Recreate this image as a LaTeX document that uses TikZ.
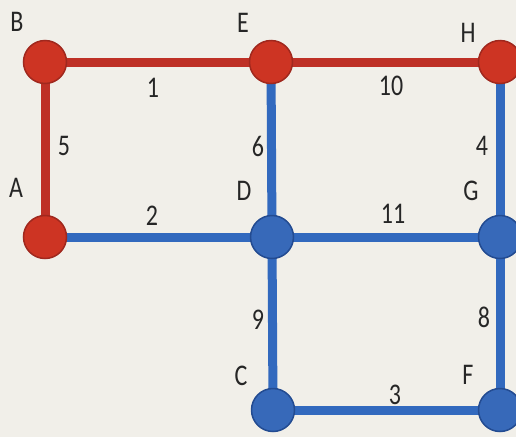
\documentclass[tikz,border=0pt]{standalone}
\usepackage{fontspec}
\setmainfont{Carlito}
\definecolor{bg}{RGB}{241,239,233}
\definecolor{rfill}{RGB}{205,52,35}
\definecolor{rdraw}{RGB}{160,40,30}
\definecolor{redge}{RGB}{190,48,38}
\definecolor{bfill}{RGB}{55,105,185}
\definecolor{bdraw}{RGB}{35,75,145}
\definecolor{bedge}{RGB}{50,105,190}
\newcommand{\lbl}[1]{\scalebox{0.8}[1]{#1}}
\tikzset{
  vred/.style={circle,fill=rfill,draw=rdraw,line width=1.5pt,minimum size=43pt,inner sep=0pt},
  vblue/.style={circle,fill=bfill,draw=bdraw,line width=1.5pt,minimum size=43pt,inner sep=0pt},
  ered/.style={draw=redge,line width=9pt},
  eblue/.style={draw=bedge,line width=9pt},
  txt/.style={font=\fontsize{30}{30}\selectfont,text=black!85,inner sep=0pt}
}
\begin{document}
\begin{tikzpicture}[x=1pt,y=-1pt]
\fill[bg] (0,0) rectangle (516,437);
\useasboundingbox (0,0) rectangle (516,437);
\coordinate (B) at (45,62);
\coordinate (E) at (271,62);
\coordinate (H) at (500,62);
\coordinate (A) at (45,237);
\coordinate (D) at (272,237);
\coordinate (G) at (500,237);
\coordinate (C) at (273,410);
\coordinate (F) at (500,410);
% edges
\draw[eblue] (A) -- (D);
\draw[eblue] (D) -- (G);
\draw[eblue] (E) -- (D);
\draw[eblue] (H) -- (G);
\draw[eblue] (D) -- (C);
\draw[eblue] (G) -- (F);
\draw[eblue] (C) -- (F);
\draw[ered] (B) -- (E);
\draw[ered] (E) -- (H);
\draw[ered] (B) -- (A);
% vertices
\node[vred] (nB) at (B) {};
\node[vred] (nE) at (E) {};
\node[vred] (nH) at (H) {};
\node[vred] (nA) at (A) {};
\node[vblue] (nD) at (D) {};
\node[vblue] (nG) at (G) {};
\node[vblue] (nC) at (C) {};
\node[vblue] (nF) at (F) {};
% vertex labels
\node[txt] (tB) at (17,22) {\lbl{B}};
\node[txt] (tE) at (243,23) {\lbl{E}};
\node[txt] (tH) at (468,33) {\lbl{H}};
\node[txt] (tA) at (16,188) {\lbl{A}};
\node[txt] (tD) at (244,191) {\lbl{D}};
\node[txt] (tG) at (471,191) {\lbl{G}};
\node[txt] (tC) at (241,376) {\lbl{C}};
\node[txt] (tF) at (468,375) {\lbl{F}};
% edge weights
\node[txt] (w1) at (153,88) {\lbl{1}};
\node[txt] (w10) at (391,86) {\lbl{10}};
\node[txt] (w5) at (64,146) {\lbl{5}};
\node[txt] (w6) at (258,146) {\lbl{6}};
\node[txt] (w4) at (482,146) {\lbl{4}};
\node[txt] (w2) at (152,216) {\lbl{2}};
\node[txt] (w11) at (393,214) {\lbl{11}};
\node[txt] (w9) at (258,320) {\lbl{9}};
\node[txt] (w8) at (484,317) {\lbl{8}};
\node[txt] (w3) at (395,395) {\lbl{3}};
\end{tikzpicture}
\end{document}
